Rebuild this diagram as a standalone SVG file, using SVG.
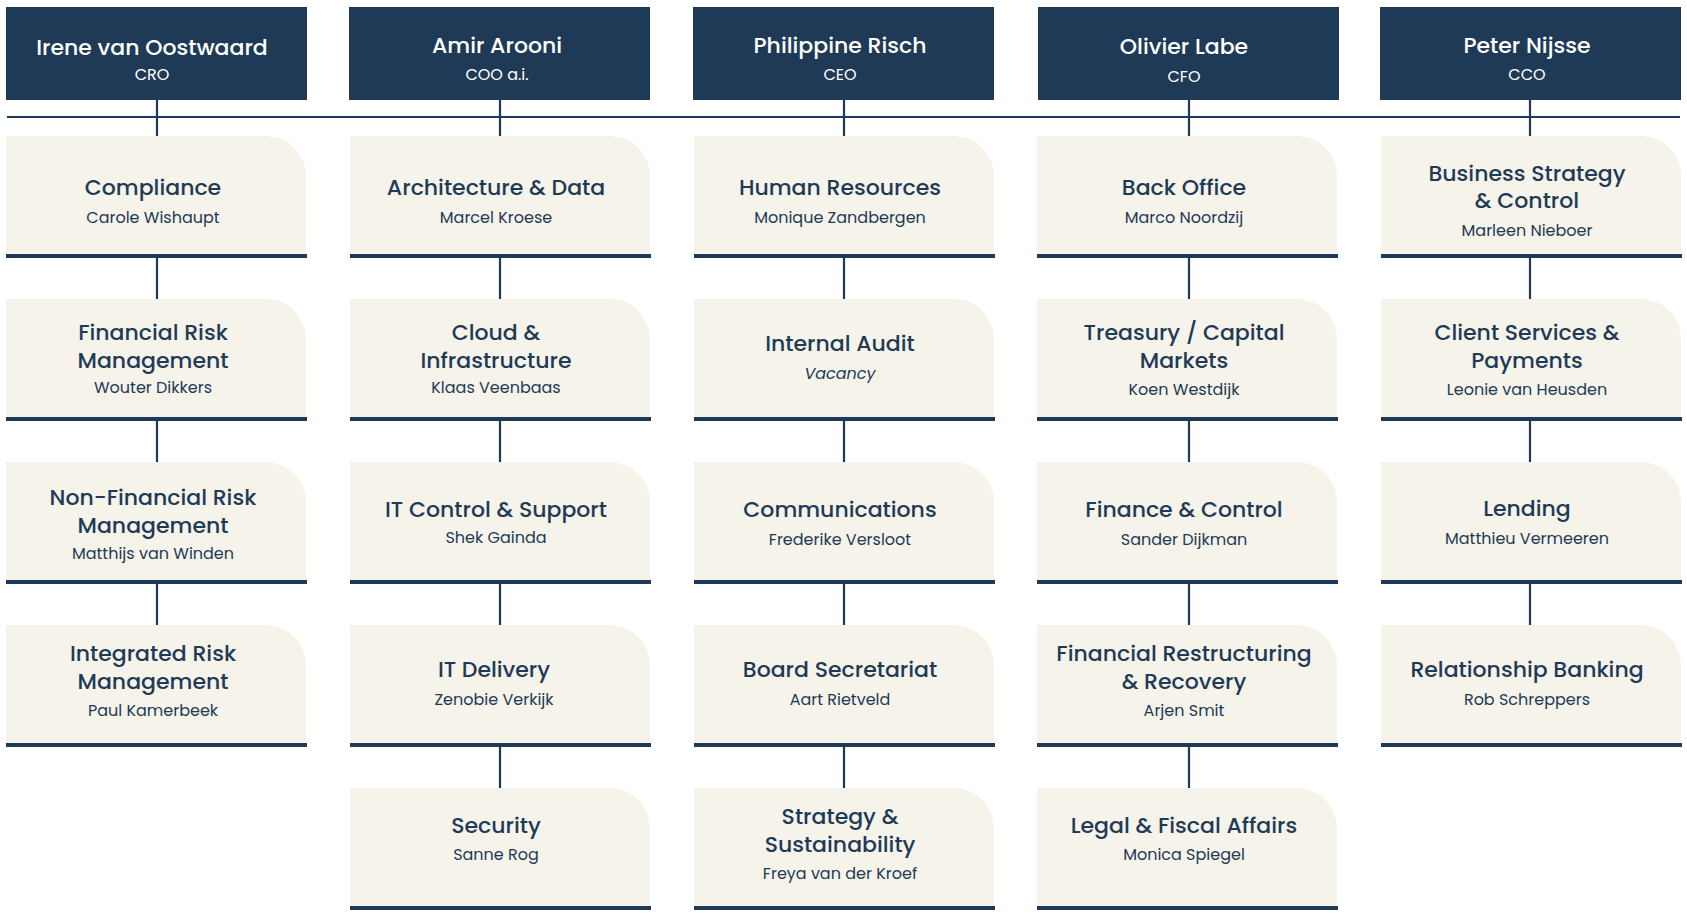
<svg xmlns="http://www.w3.org/2000/svg" width="1687" height="913" viewBox="0 0 1687 913">
<style>
.h{fill:#1f3a56}
.c{fill:#f5f3ea}
.b{fill:#1f3a56}
.ln{stroke:#1f3a56;stroke-width:2.2;fill:none}
text{font-family:Poppins,"Noto Sans",Inter,"Liberation Sans",sans-serif;text-anchor:middle}
.hn{fill:#fff;font-size:22px;font-weight:500}
.hr{fill:#fff;font-size:16px}
.t{fill:#1f3a56;font-size:22px;font-weight:500}
.s{fill:#1f3a56;font-size:16px}
</style>
<defs>
<path id="card" d="M0 0H260A40 40 0 0 1 300 40V120H0Z"/>
</defs>
<rect width="1687" height="913" fill="#fff"/>
<g id="connectors" class="ln">
<line x1="7" y1="117" x2="1680" y2="117"/>
<line x1="157" y1="100" x2="157" y2="625"/>
<line x1="500" y1="100" x2="500" y2="788"/>
<line x1="844" y1="100" x2="844" y2="788"/>
<line x1="1189" y1="100" x2="1189" y2="788"/>
<line x1="1530" y1="100" x2="1530" y2="625"/>
</g>
<g id="h1"><rect class="h" x="6" y="7" width="301" height="93"/><text class="hn" x="152" y="55">Irene van Oostwaard</text><text class="hr" x="152" y="80">CRO</text></g>
<g id="h2"><rect class="h" x="349" y="7" width="301" height="93"/><text class="hn" x="497" y="53">Amir Arooni</text><text class="hr" x="497" y="80">COO a.i.</text></g>
<g id="h3"><rect class="h" x="693" y="7" width="301" height="93"/><text class="hn" x="840" y="53">Philippine Risch</text><text class="hr" x="840" y="80">CEO</text></g>
<g id="h4"><rect class="h" x="1038" y="7" width="301" height="93"/><text class="hn" x="1184" y="54">Olivier Labe</text><text class="hr" x="1184" y="82">CFO</text></g>
<g id="h5"><rect class="h" x="1380" y="7" width="301" height="93"/><text class="hn" x="1527" y="53">Peter Nijsse</text><text class="hr" x="1527" y="80">CCO</text></g>

<g id="n1-1" transform="translate(6,136)"><use href="#card" class="c"/><rect class="b" y="118" width="301" height="4"/><text class="t" x="147" y="59">Compliance</text><text class="s" x="147" y="87">Carole Wishaupt</text></g>
<g id="n1-2" transform="translate(6,299)"><use href="#card" class="c"/><rect class="b" y="118" width="301" height="4"/><text class="t" x="147" y="41">Financial Risk</text><text class="t" x="147" y="69">Management</text><text class="s" x="147" y="94">Wouter Dikkers</text></g>
<g id="n1-3" transform="translate(6,462)"><use href="#card" class="c"/><rect class="b" y="118" width="301" height="4"/><text class="t" x="147" y="43">Non-Financial Risk</text><text class="t" x="147" y="71">Management</text><text class="s" x="147" y="97">Matthijs van Winden</text></g>
<g id="n1-4" transform="translate(6,625)"><use href="#card" class="c"/><rect class="b" y="118" width="301" height="4"/><text class="t" x="147" y="36">Integrated Risk</text><text class="t" x="147" y="64">Management</text><text class="s" x="147" y="91">Paul Kamerbeek</text></g>

<g id="n2-1" transform="translate(350,136)"><use href="#card" class="c"/><rect class="b" y="118" width="301" height="4"/><text class="t" x="146" y="59">Architecture &amp; Data</text><text class="s" x="146" y="87">Marcel Kroese</text></g>
<g id="n2-2" transform="translate(350,299)"><use href="#card" class="c"/><rect class="b" y="118" width="301" height="4"/><text class="t" x="146" y="41">Cloud &amp;</text><text class="t" x="146" y="69">Infrastructure</text><text class="s" x="146" y="94">Klaas Veenbaas</text></g>
<g id="n2-3" transform="translate(350,462)"><use href="#card" class="c"/><rect class="b" y="118" width="301" height="4"/><text class="t" x="146" y="55">IT Control &amp; Support</text><text class="s" x="146" y="81">Shek Gainda</text></g>
<g id="n2-4" transform="translate(350,625)"><use href="#card" class="c"/><rect class="b" y="118" width="301" height="4"/><text class="t" x="144" y="52">IT Delivery</text><text class="s" x="144" y="80">Zenobie Verkijk</text></g>
<g id="n2-5" transform="translate(350,788)"><use href="#card" class="c"/><rect class="b" y="118" width="301" height="4"/><text class="t" x="146" y="45">Security</text><text class="s" x="146" y="72">Sanne Rog</text></g>

<g id="n3-1" transform="translate(694,136)"><use href="#card" class="c"/><rect class="b" y="118" width="301" height="4"/><text class="t" x="146" y="59">Human Resources</text><text class="s" x="146" y="87">Monique Zandbergen</text></g>
<g id="n3-2" transform="translate(694,299)"><use href="#card" class="c"/><rect class="b" y="118" width="301" height="4"/><text class="t" x="146" y="52">Internal Audit</text><text class="s" x="146" y="80" font-style="italic">Vacancy</text></g>
<g id="n3-3" transform="translate(694,462)"><use href="#card" class="c"/><rect class="b" y="118" width="301" height="4"/><text class="t" x="146" y="55">Communications</text><text class="s" x="146" y="83">Frederike Versloot</text></g>
<g id="n3-4" transform="translate(694,625)"><use href="#card" class="c"/><rect class="b" y="118" width="301" height="4"/><text class="t" x="146" y="52">Board Secretariat</text><text class="s" x="146" y="80">Aart Rietveld</text></g>
<g id="n3-5" transform="translate(694,788)"><use href="#card" class="c"/><rect class="b" y="118" width="301" height="4"/><text class="t" x="146" y="36">Strategy &amp;</text><text class="t" x="146" y="64">Sustainability</text><text class="s" x="146" y="91">Freya van der Kroef</text></g>

<g id="n4-1" transform="translate(1037,136)"><use href="#card" class="c"/><rect class="b" y="118" width="301" height="4"/><text class="t" x="147" y="59">Back Office</text><text class="s" x="147" y="87">Marco Noordzij</text></g>
<g id="n4-2" transform="translate(1037,299)"><use href="#card" class="c"/><rect class="b" y="118" width="301" height="4"/><text class="t" x="147" y="41">Treasury / Capital</text><text class="t" x="147" y="69">Markets</text><text class="s" x="147" y="96">Koen Westdijk</text></g>
<g id="n4-3" transform="translate(1037,462)"><use href="#card" class="c"/><rect class="b" y="118" width="301" height="4"/><text class="t" x="147" y="55">Finance &amp; Control</text><text class="s" x="147" y="83">Sander Dijkman</text></g>
<g id="n4-4" transform="translate(1037,625)"><use href="#card" class="c"/><rect class="b" y="118" width="301" height="4"/><text class="t" x="147" y="36">Financial Restructuring</text><text class="t" x="147" y="64">&amp; Recovery</text><text class="s" x="147" y="91">Arjen Smit</text></g>
<g id="n4-5" transform="translate(1037,788)"><use href="#card" class="c"/><rect class="b" y="118" width="301" height="4"/><text class="t" x="147" y="45">Legal &amp; Fiscal Affairs</text><text class="s" x="147" y="72">Monica Spiegel</text></g>

<g id="n5-1" transform="translate(1381,136)"><use href="#card" class="c"/><rect class="b" y="118" width="301" height="4"/><text class="t" x="146" y="45">Business Strategy</text><text class="t" x="146" y="72">&amp; Control</text><text class="s" x="146" y="100">Marleen Nieboer</text></g>
<g id="n5-2" transform="translate(1381,299)"><use href="#card" class="c"/><rect class="b" y="118" width="301" height="4"/><text class="t" x="146" y="41">Client Services &amp;</text><text class="t" x="146" y="69">Payments</text><text class="s" x="146" y="96">Leonie van Heusden</text></g>
<g id="n5-3" transform="translate(1381,462)"><use href="#card" class="c"/><rect class="b" y="118" width="301" height="4"/><text class="t" x="146" y="54">Lending</text><text class="s" x="146" y="82">Matthieu Vermeeren</text></g>
<g id="n5-4" transform="translate(1381,625)"><use href="#card" class="c"/><rect class="b" y="118" width="301" height="4"/><text class="t" x="146" y="52">Relationship Banking</text><text class="s" x="146" y="80">Rob Schreppers</text></g>
</svg>
